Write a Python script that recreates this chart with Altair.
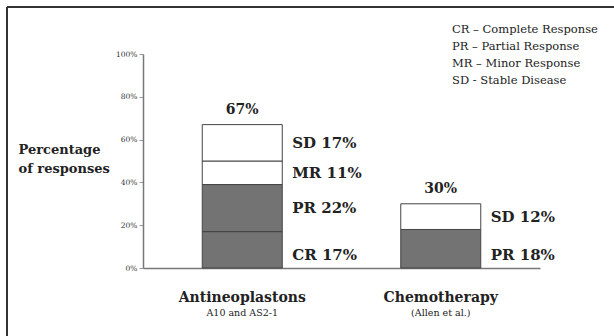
import altair as alt
import pandas as pd

groups = ["Antineoplastons", "Chemotherapy"]
subtitles = ["A10 and AS2-1", "(Allen et al.)"]
ant_codes = ["CR", "PR", "MR", "SD"]
ant_values = [17, 22, 11, 17]
chemo_codes = ["PR", "SD"]
chemo_values = [18, 12]
legend_lines = ["CR – Complete Response", "PR – Partial Response",
                "MR – Minor Response", "SD - Stable Disease"]
y_ticks = [0, 20, 40, 60, 80, 100]

rows = []
for g, codes, vals in [(groups[0], ant_codes, ant_values), (groups[1], chemo_codes, chemo_values)]:
    start = 0
    for i, (c, v) in enumerate(zip(codes, vals)):
        mid = start + v / 2
        rows.append(dict(group=g, code=c, value=v, y0=start, y1=start + v,
                         ly=min(mid, 6) if i == 0 else mid,
                         label=f"{c} {v}%"))
        start += v
seg = pd.DataFrame(rows)
tot = seg.groupby("group", as_index=False)["value"].sum()
tot["label"] = tot["value"].astype(str) + "%"
cats = pd.DataFrame({"group": groups, "sub": subtitles})

FONT = "'DejaVu Serif', serif"
xenc = alt.X("group:N", sort=groups,
             scale=alt.Scale(paddingInner=0, paddingOuter=0),
             axis=alt.Axis(labels=False, ticks=False, title=None,
                           domainColor="#777", domainWidth=1.5))

bars = alt.Chart(seg).mark_bar(size=80, stroke="#444", strokeWidth=1).encode(
    x=xenc,
    y=alt.Y("y0:Q", scale=alt.Scale(domain=[0, 100]),
            axis=alt.Axis(values=y_ticks, labelExpr="datum.value + '%'",
                          labelFontSize=7.5, labelColor="#333", labelFont=FONT,
                          tickSize=4, tickColor="#999", grid=False,
                          domainColor="#777", domainWidth=1.5,
                          title=["Percentage", "of responses"], titleAngle=0,
                          titleAlign="left", titleX=-125, titleY=102,
                          titleFont=FONT, titleFontSize=13, titleFontWeight="bold",
                          titleLineHeight=19, titleColor="#222")),
    y2="y1:Q",
    color=alt.Color("code:N", scale=alt.Scale(domain=["CR", "PR", "MR", "SD"],
                    range=["#737373", "#737373", "#ffffff", "#ffffff"]), legend=None),
)

seg_labels = alt.Chart(seg).mark_text(align="left", baseline="middle", dx=50,
                                      font=FONT, fontSize=15, fontWeight="bold",
                                      color="#222").encode(
    x=alt.X("group:N", sort=groups), y="ly:Q", text="label:N")

tot_labels = alt.Chart(tot).mark_text(baseline="middle", dy=-15, font=FONT,
                                      fontSize=14, fontWeight="bold", color="#222").encode(
    x=alt.X("group:N", sort=groups), y="value:Q", text="label:N")

cat_labels = alt.Chart(cats).mark_text(baseline="middle", font=FONT, fontSize=14,
                                       fontWeight="bold", color="#222").encode(
    x=alt.X("group:N", sort=groups), y=alt.value(244), text="group:N")
sub_labels = alt.Chart(cats).mark_text(baseline="middle", font=FONT, fontSize=9.5,
                                       color="#222").encode(
    x=alt.X("group:N", sort=groups), y=alt.value(259), text="sub:N")

legend = alt.Chart(pd.DataFrame({"t": ["\n".join(legend_lines)]})).mark_text(
    align="left", baseline="middle", font=FONT, fontSize=11.5, lineHeight=17,
    lineBreak="\n", color="#222").encode(
    x=alt.value(309), y=alt.value(-24), text="t:N")

frame_top = alt.Chart(pd.DataFrame({"a": [0]})).mark_rule(color="#333", strokeWidth=2).encode(
    x=alt.value(-136), x2=alt.value(480), y=alt.value(-47))
frame_left = alt.Chart(pd.DataFrame({"a": [0]})).mark_rule(color="#333", strokeWidth=2).encode(
    x=alt.value(-136), y=alt.value(-47), y2=alt.value(300))

chart = alt.layer(bars, seg_labels, tot_labels, cat_labels, sub_labels, legend,
                  frame_top, frame_left).properties(
    width=397, height=214,
    autosize=alt.AutoSizeParams(type="none"),
    padding={"left": 143, "top": 54, "right": 74, "bottom": 68},
    background="white",
).configure_view(stroke=None)

chart.save("out.html", embed_options={"renderer": "svg", "actions": False})
